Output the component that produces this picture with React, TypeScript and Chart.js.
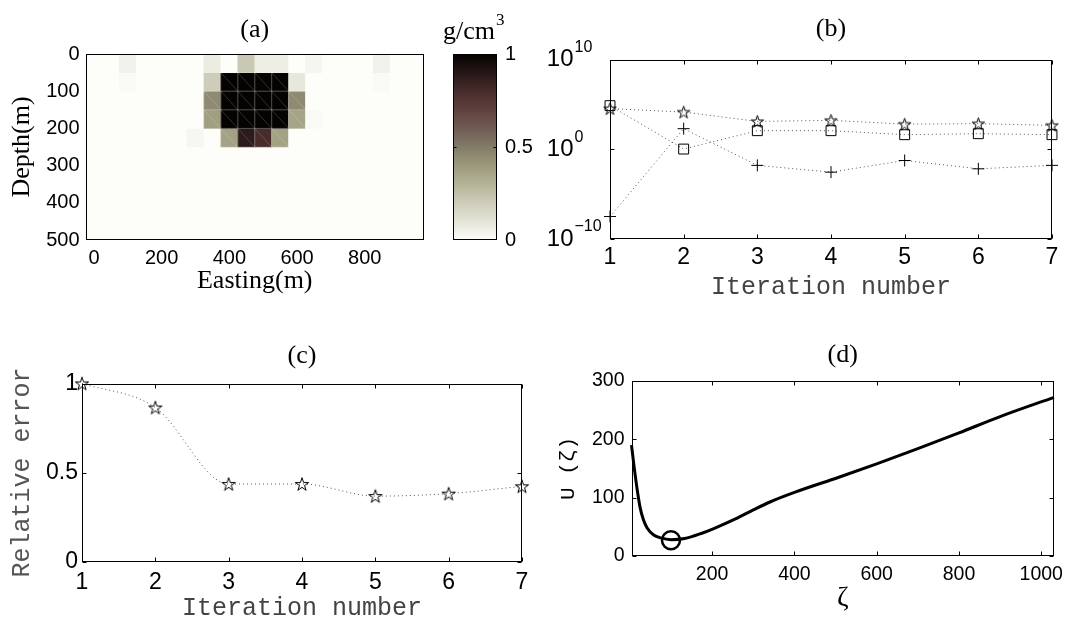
import React, { useEffect, useRef } from "react";
import { Chart, registerables } from "chart.js";

Chart.register(...registerables);

const PAGE_W = 1071;
const PAGE_H = 619;

// ---------------- (a) density model ----------------
const eastingCentres = [0, 50, 100, 150, 200, 250, 300, 350, 400, 450, 500, 550, 600, 650, 700, 750, 800, 850, 900, 950];
const depthBandTops = [0, 50, 100, 150, 200, 250, 300, 350, 400, 450];
const depthBandBottoms = [50, 100, 150, 200, 250, 300, 350, 400, 450, 500];
const densityRow1 = [0, 0, 0.05, 0, 0, 0, 0, 0.07, 0, 0.22, 0.06, 0.06, 0, 0.03, 0, 0, 0, 0.05, 0, 0];
const densityRow2 = [0, 0, 0.015, 0, 0, 0, 0, 0.2, 1, 1, 1, 1, 0.09, 0, 0, 0, 0, 0.015, 0, 0];
const densityRow3 = [0, 0, 0, 0, 0, 0, 0, 0.45, 1, 1, 1, 1, 0.45, 0, 0, 0, 0, 0, 0, 0];
const densityRow4 = [0, 0, 0, 0, 0, 0, 0, 0.38, 1, 1, 1, 1, 0.36, 0.015, 0, 0, 0, 0, 0, 0];
const densityRow5 = [0, 0, 0, 0, 0, 0, 0.025, 0, 0.37, 0.88, 0.8, 0.37, 0, 0, 0, 0, 0, 0, 0, 0];
const densityRow6 = [0, 0, 0, 0, 0, 0, 0, 0, 0, 0, 0, 0, 0, 0, 0, 0, 0, 0, 0, 0];
const densityRow7 = [0, 0, 0, 0, 0, 0, 0, 0, 0, 0, 0, 0, 0, 0, 0, 0, 0, 0, 0, 0];
const densityRow8 = [0, 0, 0, 0, 0, 0, 0, 0, 0, 0, 0, 0, 0, 0, 0, 0, 0, 0, 0, 0];
const densityRow9 = [0, 0, 0, 0, 0, 0, 0, 0, 0, 0, 0, 0, 0, 0, 0, 0, 0, 0, 0, 0];
const densityRow10 = [0, 0, 0, 0, 0, 0, 0, 0, 0, 0, 0, 0, 0, 0, 0, 0, 0, 0, 0, 0];
const densityRows = [densityRow1, densityRow2, densityRow3, densityRow4, densityRow5, densityRow6, densityRow7, densityRow8, densityRow9, densityRow10];
const eastingTicks = [0, 200, 400, 600, 800];
const depthTicks = [0, 100, 200, 300, 400, 500];
const colorbarTicks = [0, 0.5, 1];

// ---------------- (b) ----------------
const iterations = [1, 2, 3, 4, 5, 6, 7];
const seriesStarB = [3.4e4, 1.4e4, 1.26e3, 1.66e3, 6.3e2, 7.1e2, 4.6e2];
const seriesSquareB = [7.2e4, 1.05, 117, 117, 42, 54, 42];
const seriesPlusB = [3.2e-8, 195, 0.016, 0.0028, 0.056, 0.0066, 0.016];
const logTicksB = [1e-10, 1, 1e10];
const logTickExponentsB = ["\u221210", "0", "10"];

// ---------------- (c) ----------------
const relativeError = [1.0, 0.865, 0.436, 0.436, 0.368, 0.382, 0.423];
const errorTicks = [0, 0.5, 1];

// ---------------- (d) ----------------
const zeta = [4, 10, 17, 25, 33, 42, 58, 75, 100, 133, 175, 204, 258, 300, 342, 400, 508, 600, 700, 800, 900, 1031];
const uZeta = [190, 155, 118, 83, 62, 48, 36, 31, 28, 30, 39, 47, 64, 79, 93, 109, 135, 158, 184, 211, 239, 272];
const zetaOptimal = [100];
const uOptimal = [27];
const zetaTicks = [200, 400, 600, 800, 1000];
const uTicks = [0, 100, 200, 300];

// ---------------- styling ----------------
const SERIF = '"Liberation Serif", "Times New Roman", serif';
const SANS = '"Liberation Sans", Arial, sans-serif';
const MONO = '"Liberation Mono", "Courier New", monospace';

const CMAP: number[][] = [
  [0.0, 253, 253, 250],
  [0.1, 228, 228, 215],
  [0.2, 206, 205, 186],
  [0.3, 180, 179, 152],
  [0.4, 156, 154, 124],
  [0.5, 130, 124, 104],
  [0.6, 112, 92, 84],
  [0.7, 96, 64, 62],
  [0.8, 72, 44, 44],
  [0.9, 38, 22, 22],
  [1.0, 5, 2, 2],
];

function cmap(v: number): string {
  const t = Math.max(0, Math.min(1, v));
  for (let i = 1; i < CMAP.length; i++) {
    if (t <= CMAP[i][0]) {
      const a = CMAP[i - 1];
      const b = CMAP[i];
      const f = (t - a[0]) / (b[0] - a[0]);
      const c = [1, 2, 3].map((k) => Math.round(a[k] + (b[k] - a[k]) * f));
      return `rgb(${c[0]},${c[1]},${c[2]})`;
    }
  }
  return "rgb(5,2,2)";
}

type TextItem = {
  text: string;
  x: number;
  y: number;
  font: string;
  color?: string;
  align?: CanvasTextAlign;
  baseline?: CanvasTextBaseline;
  rotate?: number;
  sup?: string;
  supFont?: string;
  supDy?: number;
};

function textPlugin(getItems: (chart: any) => TextItem[]) {
  return {
    id: "texts",
    afterDraw(chart: any) {
      const ctx: CanvasRenderingContext2D = chart.ctx;
      for (const it of getItems(chart)) {
        ctx.save();
        ctx.translate(it.x, it.y);
        if (it.rotate) ctx.rotate(it.rotate);
        ctx.font = it.font;
        ctx.fillStyle = it.color || "#000";
        const align = it.align || "center";
        ctx.textAlign = align;
        ctx.textBaseline = it.baseline || "alphabetic";
        ctx.fillText(it.text, 0, 0);
        if (it.sup) {
          const w = ctx.measureText(it.text).width;
          const sx = align === "left" ? w : align === "right" ? 0 : w / 2;
          ctx.font = it.supFont || it.font;
          ctx.textAlign = "left";
          ctx.fillText(it.sup, sx + 1, it.supDy || 0);
        }
        ctx.restore();
      }
    },
  };
}

function boxPlugin(xTicks: number[], yTicks: number[], len: number) {
  return {
    id: "box",
    afterDatasetsDraw(chart: any) {
      const { ctx, chartArea: a, scales } = chart;
      ctx.save();
      ctx.strokeStyle = "#000";
      ctx.lineWidth = 1;
      ctx.setLineDash([]);
      const L = Math.round(a.left) + 0.5;
      const R = Math.round(a.right) - 0.5;
      const T = Math.round(a.top) + 0.5;
      const B = Math.round(a.bottom) - 0.5;
      ctx.strokeRect(L, T, R - L, B - T);
      ctx.beginPath();
      for (const v of xTicks) {
        const p = Math.round(scales.x.getPixelForValue(v)) + 0.5;
        ctx.moveTo(p, B);
        ctx.lineTo(p, B - len);
        ctx.moveTo(p, T);
        ctx.lineTo(p, T + len);
      }
      for (const v of yTicks) {
        const p = Math.round(scales.y.getPixelForValue(v)) + 0.5;
        ctx.moveTo(L, p);
        ctx.lineTo(L + len, p);
        ctx.moveTo(R, p);
        ctx.lineTo(R - len, p);
      }
      ctx.stroke();
      ctx.restore();
    },
  };
}

// faint facet edges of the shaded cells (as in the rendered reference image)
const facetPlugin = {
  id: "facets",
  afterDatasetsDraw(chart: any) {
    const { ctx, scales } = chart;
    const half = (eastingCentres[1] - eastingCentres[0]) / 2;
    ctx.save();
    ctx.strokeStyle = "rgba(255,255,255,0.22)";
    ctx.lineWidth = 0.8;
    densityRows.forEach((row, r) => {
      row.forEach((v, c) => {
        if (v < 0.3) return;
        const x0 = scales.x.getPixelForValue(eastingCentres[c] - half);
        const x1 = scales.x.getPixelForValue(eastingCentres[c] + half);
        const y0 = scales.y.getPixelForValue(depthBandTops[r]);
        const y1 = scales.y.getPixelForValue(depthBandBottoms[r]);
        ctx.beginPath();
        ctx.rect(x0, y0, x1 - x0, y1 - y0);
        ctx.moveTo(x0, y0);
        ctx.lineTo(x1, y1);
        ctx.stroke();
      });
    });
    ctx.restore();
  },
};

function makeStar(R: number): HTMLCanvasElement {
  const s = Math.ceil(2 * R + 4);
  const c = document.createElement("canvas");
  c.width = s;
  c.height = s;
  const g = c.getContext("2d")!;
  const cx = s / 2;
  const cy = s / 2 + R * 0.09;
  const r = R * 0.382;
  g.beginPath();
  for (let i = 0; i < 10; i++) {
    const ang = -Math.PI / 2 + (i * Math.PI) / 5;
    const rad = i % 2 === 0 ? R : r;
    const px = cx + rad * Math.cos(ang);
    const py = cy + rad * Math.sin(ang);
    if (i === 0) g.moveTo(px, py);
    else g.lineTo(px, py);
  }
  g.closePath();
  g.strokeStyle = "#000";
  g.lineWidth = 1;
  g.stroke();
  return c;
}

// Axis boxes keep a fixed size so that the plot area lands where the reference has it.
const Y_AXIS_W = 60;
const X_AXIS_H = 45;
const padLeftAxis = (L: number, T: number, R: number, B: number) => ({
  left: L - Y_AXIS_W,
  top: T,
  right: PAGE_W - R,
  bottom: PAGE_H - B - X_AXIS_H,
});
const setW = (s: any) => {
  s.width = Y_AXIS_W;
};
const setH = (s: any) => {
  s.height = X_AXIS_H;
};
const fixTicks = (vals: number[]) => (s: any) => {
  s.ticks = vals.map((value) => ({ value }));
};
const tickOpts = (size: number, padding: number) => ({
  font: { family: SANS, size },
  color: "#000",
  padding,
  maxRotation: 0,
  minRotation: 0,
  autoSkip: false,
  callback: (v: any) => String(v),
});
const noGrid = { grid: { display: false, drawTicks: false }, border: { display: false } };
const baseOpts = {
  responsive: false,
  animation: false as const,
  devicePixelRatio: 1,
  events: [] as any[],
};
const noPlugins = { legend: { display: false }, tooltip: { enabled: false }, title: { display: false } };

// ---------------- builders ----------------
function buildA(canvas: HTMLCanvasElement) {
  const datasets = densityRows.map((row, r) => ({
    data: row.map((v, c) => ({ x: eastingCentres[c], y: [depthBandTops[r], depthBandBottoms[r]] })),
    backgroundColor: row.map(cmap),
    borderWidth: 0,
    barPercentage: 1,
    categoryPercentage: 1,
    grouped: false,
  }));
  return new Chart(canvas, {
    type: "bar",
    data: { datasets } as any,
    options: {
      ...baseOpts,
      layout: { autoPadding: false, padding: padLeftAxis(85.5, 54, 424, 240) },
      plugins: noPlugins,
      scales: {
        x: { type: "linear", min: -25, max: 975, offset: false, ...noGrid, ticks: tickOpts(20, 6), afterBuildTicks: fixTicks(eastingTicks), afterFit: setH },
        y: { type: "linear", reverse: true, min: 0, max: 500, ...noGrid, ticks: tickOpts(20, 6), afterBuildTicks: fixTicks(depthTicks), afterFit: setW },
      },
    } as any,
    plugins: [
      facetPlugin,
      boxPlugin([], [], 0),
      textPlugin((ch) => {
        const a = ch.chartArea;
        const cx = (a.left + a.right) / 2;
        return [
          { text: "(a)", x: cx, y: 37, font: `26px ${SERIF}` },
          { text: "Easting(m)", x: cx, y: 288, font: `26px ${SERIF}` },
          { text: "Depth(m)", x: 22, y: (a.top + a.bottom) / 2, font: `26px ${SERIF}`, rotate: -Math.PI / 2, baseline: "middle" },
        ];
      }),
    ] as any,
  });
}

function buildColorbar(canvas: HTMLCanvasElement) {
  return new Chart(canvas, {
    type: "bar",
    data: {
      labels: [""],
      datasets: [
        {
          data: [[colorbarTicks[0], colorbarTicks[colorbarTicks.length - 1]]],
          backgroundColor: (ctx: any) => {
            const area = ctx.chart.chartArea;
            if (!area) return "#888";
            const g = ctx.chart.ctx.createLinearGradient(0, area.bottom, 0, area.top);
            for (const s of CMAP) g.addColorStop(s[0], `rgb(${s[1]},${s[2]},${s[3]})`);
            return g;
          },
          borderWidth: 0,
          barPercentage: 1,
          categoryPercentage: 1,
        },
      ],
    } as any,
    options: {
      ...baseOpts,
      layout: { autoPadding: false, padding: { left: 453, top: 54, right: PAGE_W - 497 - Y_AXIS_W, bottom: PAGE_H - 240 } },
      plugins: noPlugins,
      scales: {
        x: { type: "category", display: false },
        y: { type: "linear", position: "right", min: 0, max: 1, ...noGrid, ticks: tickOpts(20, 8), afterBuildTicks: fixTicks(colorbarTicks), afterFit: setW },
      },
    } as any,
    plugins: [
      boxPlugin([], [0.5], 3),
      textPlugin(() => [
        { text: "g/cm", x: 443, y: 39, font: `26px ${SERIF}`, align: "left", sup: "3", supFont: `17px ${SERIF}`, supDy: -14 },
      ]),
    ] as any,
  });
}

function buildB(canvas: HTMLCanvasElement) {
  const star = makeStar(6.5);
  const common = {
    borderColor: "#555",
    borderWidth: 1,
    borderDash: [1, 3],
    tension: 0,
    pointBorderColor: "#000",
    pointBackgroundColor: "rgba(0,0,0,0)",
    pointBorderWidth: 1,
    clip: false,
  };
  return new Chart(canvas, {
    type: "line",
    data: {
      datasets: [
        { ...common, data: iterations.map((x, i) => ({ x, y: seriesStarB[i] })), pointStyle: star, pointRadius: 7 },
        { ...common, data: iterations.map((x, i) => ({ x, y: seriesSquareB[i] })), pointStyle: "rect", pointRadius: 7 },
        { ...common, data: iterations.map((x, i) => ({ x, y: seriesPlusB[i] })), pointStyle: "cross", pointRadius: 6 },
      ],
    } as any,
    options: {
      ...baseOpts,
      layout: { autoPadding: false, padding: padLeftAxis(610, 59.5, 1052, 239) },
      plugins: noPlugins,
      scales: {
        x: { type: "linear", min: 1, max: 7, ...noGrid, ticks: tickOpts(23, 5), afterBuildTicks: fixTicks(iterations), afterFit: setH },
        y: { type: "logarithmic", min: 1e-10, max: 1e10, ...noGrid, ticks: { display: false }, afterBuildTicks: fixTicks(logTicksB), afterFit: setW },
      },
    } as any,
    plugins: [
      boxPlugin(iterations, logTicksB, 4),
      textPlugin((ch) => {
        const a = ch.chartArea;
        const cx = (a.left + a.right) / 2;
        const items: TextItem[] = [
          { text: "(b)", x: cx, y: 35.5, font: `26px ${SERIF}` },
          { text: "Iteration number", x: cx, y: 294, font: `25px ${MONO}`, color: "#444" },
        ];
        logTicksB.forEach((v, i) => {
          items.push({
            text: "10",
            x: a.left - 36.5,
            y: ch.scales.y.getPixelForValue(v),
            font: `24px ${SANS}`,
            align: "right",
            baseline: "middle",
            sup: logTickExponentsB[i],
            supFont: `16px ${SANS}`,
            supDy: -12,
          });
        });
        return items;
      }),
    ] as any,
  });
}

function buildC(canvas: HTMLCanvasElement) {
  const star = makeStar(7);
  return new Chart(canvas, {
    type: "line",
    data: {
      datasets: [
        {
          data: iterations.map((x, i) => ({ x, y: relativeError[i] })),
          borderColor: "#555",
          borderWidth: 1,
          borderDash: [1, 3],
          cubicInterpolationMode: "monotone",
          pointStyle: star,
          pointRadius: 7,
          pointBorderColor: "#000",
          clip: false,
        },
      ],
    } as any,
    options: {
      ...baseOpts,
      layout: { autoPadding: false, padding: padLeftAxis(82, 383.5, 522, 561.7) },
      plugins: noPlugins,
      scales: {
        x: { type: "linear", min: 1, max: 7, ...noGrid, ticks: tickOpts(23, 7), afterBuildTicks: fixTicks(iterations), afterFit: setH },
        y: { type: "linear", min: 0, max: 1, ...noGrid, ticks: tickOpts(23, 4), afterBuildTicks: fixTicks(errorTicks), afterFit: setW },
      },
    } as any,
    plugins: [
      boxPlugin(iterations, errorTicks, 4),
      textPlugin((ch) => {
        const a = ch.chartArea;
        const cx = (a.left + a.right) / 2;
        return [
          { text: "(c)", x: cx, y: 362.5, font: `26px ${SERIF}` },
          { text: "Iteration number", x: cx, y: 615, font: `25px ${MONO}`, color: "#444" },
          { text: "Relative error", x: 22.5, y: (a.top + a.bottom) / 2, font: `25px ${MONO}`, color: "#555", rotate: -Math.PI / 2, baseline: "middle" },
        ];
      }),
    ] as any,
  });
}

function buildD(canvas: HTMLCanvasElement) {
  return new Chart(canvas, {
    type: "line",
    data: {
      datasets: [
        {
          data: zeta.map((x, i) => ({ x, y: uZeta[i] })),
          borderColor: "#000",
          borderWidth: 3,
          pointRadius: 0,
          cubicInterpolationMode: "monotone",
          clip: false,
        },
        {
          data: zetaOptimal.map((x, i) => ({ x, y: uOptimal[i] })),
          showLine: false,
          pointStyle: "circle",
          pointRadius: 9,
          pointBorderWidth: 2.5,
          pointBorderColor: "#000",
          pointBackgroundColor: "rgba(0,0,0,0)",
          clip: false,
        },
      ],
    } as any,
    options: {
      ...baseOpts,
      layout: { autoPadding: false, padding: padLeftAxis(631.5, 381, 1054, 556) },
      plugins: noPlugins,
      scales: {
        x: { type: "linear", min: 4, max: 1031, ...noGrid, ticks: tickOpts(19.5, 7), afterBuildTicks: fixTicks(zetaTicks), afterFit: setH },
        y: { type: "linear", min: 0, max: 300, ...noGrid, ticks: tickOpts(19.5, 7), afterBuildTicks: fixTicks(uTicks), afterFit: setW },
      },
    } as any,
    plugins: [
      boxPlugin(zetaTicks, uTicks, 4),
      textPlugin((ch) => {
        const a = ch.chartArea;
        const cx = (a.left + a.right) / 2;
        return [
          { text: "(d)", x: cx, y: 362, font: `26px ${SERIF}` },
          { text: "\u03B6", x: cx, y: 606, font: `28px ${SERIF}` },
          { text: "U (\u03B6)", x: 568, y: (a.top + a.bottom) / 2, font: `21px ${MONO}`, rotate: -Math.PI / 2, baseline: "middle" },
        ];
      }),
    ] as any,
  });
}

function PageChart({ build }: { build: (c: HTMLCanvasElement) => Chart }) {
  const ref = useRef<HTMLCanvasElement | null>(null);
  useEffect(() => {
    const chart = build(ref.current!);
    return () => chart.destroy();
  }, [build]);
  return (
    <canvas
      ref={ref}
      width={PAGE_W}
      height={PAGE_H}
      style={{ position: "absolute", left: 0, top: 0, width: PAGE_W, height: PAGE_H }}
    />
  );
}

export default function App() {
  return (
    <div style={{ position: "absolute", left: 0, top: 0, width: PAGE_W, height: PAGE_H, background: "#fff", overflow: "hidden" }}>
      <PageChart build={buildA} />
      <PageChart build={buildColorbar} />
      <PageChart build={buildB} />
      <PageChart build={buildC} />
      <PageChart build={buildD} />
    </div>
  );
}
